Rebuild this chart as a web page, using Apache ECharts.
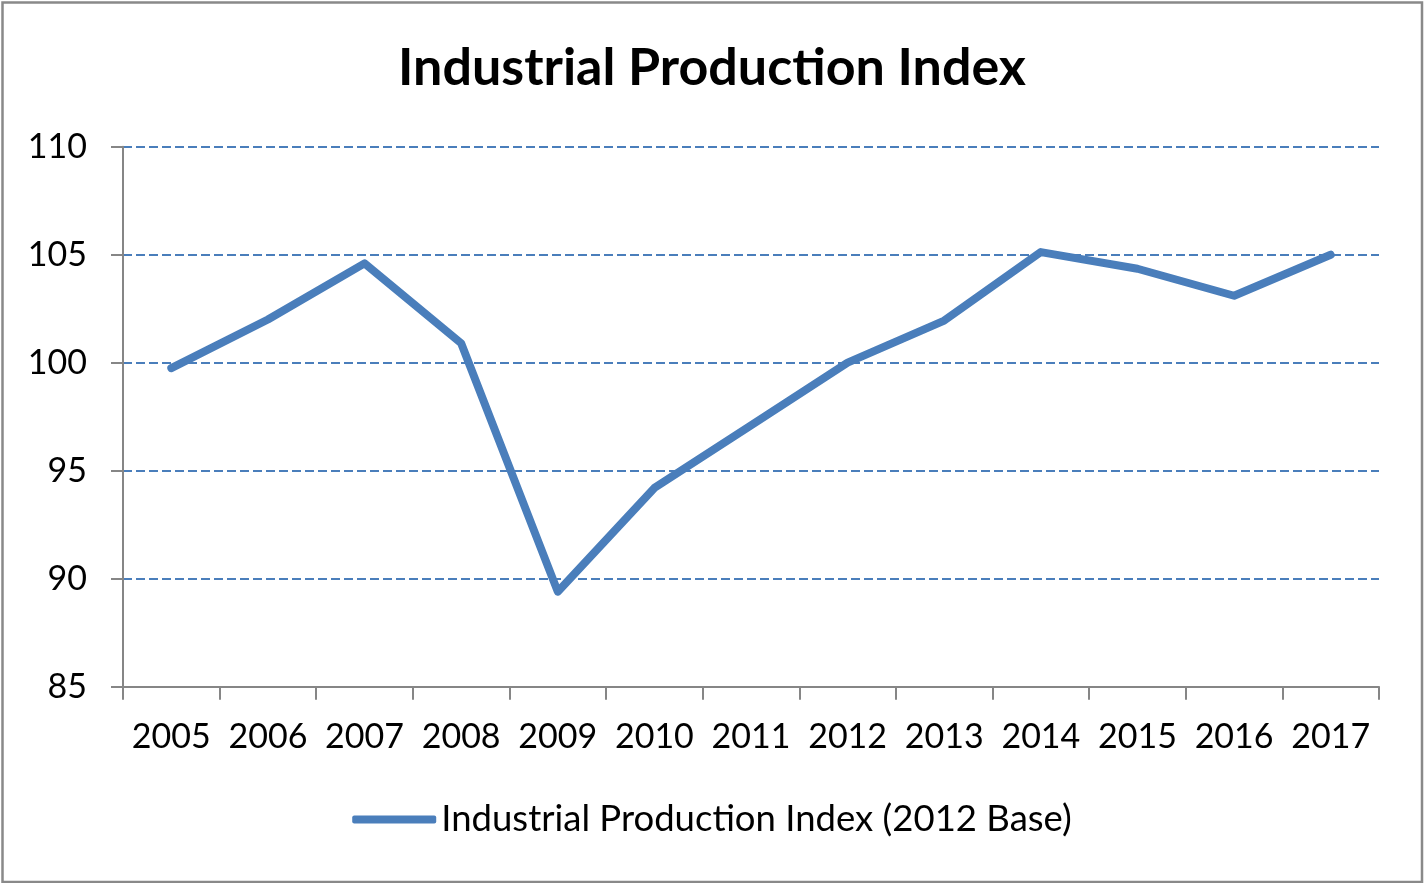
<!DOCTYPE html>
<html>
<head>
<meta charset="utf-8">
<script src="https://cdn.jsdelivr.net/npm/echarts@6/dist/echarts.min.js"></script>
<style>
html,body{margin:0;padding:0;background:#fff;}
#chart{width:1424px;height:883px;}
</style>
</head>
<body>
<div id="chart"></div>
<script>
const categories = ['2005','2006','2007','2008','2009','2010','2011','2012','2013','2014','2015','2016','2017'];
const values = [99.75, 102.0, 104.6, 100.9, 89.4, 94.2, 97.1, 100.0, 101.95, 105.12, 104.35, 103.1, 105.0];
const seriesName = 'Industrial Production Index (2012 Base)';
const titleText = 'Industrial Production Index';

const FONT = 'Lato, "Open Sans", sans-serif';
const chart = echarts.init(document.getElementById('chart'), null, {renderer:'canvas'});
chart.setOption({
  animation:false,
  backgroundColor:'#ffffff',
  title:{
    text:titleText, left:'center', top:37,
    textStyle:{fontFamily:FONT, fontWeight:'bold', fontSize:52, color:'#000'}
  },
  grid:{left:123, right:45, top:146.7, bottom:196.3, containLabel:false},
  legend:{
    bottom:40, left:'center',
    icon:'roundRect', itemWidth:84, itemHeight:8, itemGap:6,
    textStyle:{fontFamily:FONT, fontSize:36.5, color:'#000'},
    data:[seriesName]
  },
  xAxis:{
    type:'category', data:categories, boundaryGap:true,
    axisLine:{show:true, lineStyle:{color:'#868686', width:2}},
    axisTick:{show:true, length:13, lineStyle:{color:'#868686', width:2}},
    axisLabel:{fontFamily:FONT, fontSize:34, color:'#000', margin:33, interval:0},
    splitLine:{show:false}
  },
  yAxis:{
    type:'value', min:85, max:110, interval:5,
    axisLine:{show:true, lineStyle:{color:'#868686', width:2}},
    axisTick:{show:true, length:12, lineStyle:{color:'#868686', width:2}},
    axisLabel:{fontFamily:FONT, fontSize:34, color:'#000', margin:36},
    splitLine:{show:true, lineStyle:{color:'#4a7ebb', width:2, type:[9,4]}}
  },
  series:[{
    name:seriesName, type:'line', data:values,
    symbol:'none', showSymbol:false, smooth:false,
    lineStyle:{color:'#4a7ebb', width:8, cap:'round', join:'round'},
    itemStyle:{color:'#4a7ebb'}
  }],
  graphic:[{
    type:'rect', left:0, top:0, silent:true,
    shape:{x:2, y:1.5, width:1419.5, height:879.5},
    style:{fill:null, stroke:'#898989', lineWidth:2.5}
  }]
});
</script>
</body>
</html>
